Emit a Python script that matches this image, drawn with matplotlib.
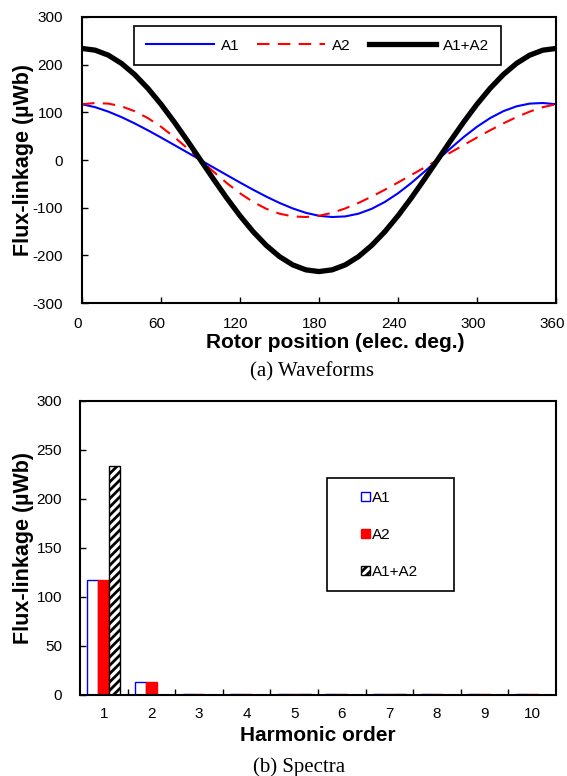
import numpy as np
import matplotlib.pyplot as plt
import matplotlib.transforms as mtransforms
from matplotlib.patches import Rectangle

plt.rcParams["font.family"] = ["Liberation Sans", "DejaVu Sans"]
plt.rcParams["hatch.linewidth"] = 2.0
plt.rcParams["axes.unicode_minus"] = False

# --- waveform data (every 10 deg) ---
theta = list(range(0, 361, 10))
a1 = [117, 110.8, 101.5, 90.0, 76.8, 62.4, 47.2, 31.6, 15.9, 0,
      -15.9, -31.6, -47.2, -62.4, -76.8, -90.0, -101.5, -110.8, -117,
      -119.6, -118.3, -112.6, -102.4, -88.0, -69.8, -48.4, -24.7, 0,
      24.7, 48.4, 69.8, 88.0, 102.4, 112.6, 118.3, 119.6, 117]
a2 = [117, 119.6, 118.3, 112.6, 102.4, 88.0, 69.8, 48.4, 24.7, 0,
      -24.7, -48.4, -69.8, -88.0, -102.4, -112.6, -118.3, -119.6, -117,
      -110.8, -101.5, -90.0, -76.8, -62.4, -47.2, -31.6, -15.9, 0,
      15.9, 31.6, 47.2, 62.4, 76.8, 90.0, 101.5, 110.8, 117]
a12 = [234, 230.4, 219.9, 202.6, 179.2, 150.4, 117.0, 80.0, 40.6, 0,
       -40.6, -80.0, -117.0, -150.4, -179.2, -202.6, -219.9, -230.4, -234,
       -230.4, -219.9, -202.6, -179.2, -150.4, -117.0, -80.0, -40.6, 0,
       40.6, 80.0, 117.0, 150.4, 179.2, 202.6, 219.9, 230.4, 234]

# --- spectra data ---
orders = list(range(1, 11))
spec_a1 = [117, 13, 0.5, 0.5, 0.5, 1.0, 1.0, 0.5, 0.5, 0.5]
spec_a2 = [117, 13, 0.5, 0.5, 0.5, 1.0, 1.0, 0.5, 0.5, 0.5]
spec_a12 = [234, 0.4, 0.3, 0.3, 0.8, 0.3, 1.5, 0.3, 0.3, 0.3]

serif = ["Liberation Serif", "DejaVu Serif"]
fig = plt.figure(figsize=(5.67, 7.76), dpi=100)

# ---- (a) Waveforms ----
ax1 = fig.add_axes([0.1446, 0.6095, 0.836, 0.3686])
ax1.plot(theta, a1, color="#0000ff", lw=1.5, label="A1")
ax1.plot(theta, a2, color="#ff0000", lw=1.5, ls=(0, (6, 4)), label="A2")
ax1.plot(theta, a12, color="black", lw=3.8, label="A1+A2")
ax1.set_xlim(0, 360)
ax1.set_ylim(-300, 300)
ax1.set_xticks(range(0, 361, 60))
ax1.set_yticks(range(-300, 301, 100))
ax1.tick_params(direction="in", length=4, width=1, labelsize=11)
ax1.tick_params(axis="x", pad=9.8)
ax1.tick_params(axis="y", pad=13.5)
# x tick labels sit a little left of their ticks in the reference
shift = mtransforms.ScaledTranslation(-3 / 72, 0, fig.dpi_scale_trans)
for lab in ax1.get_xticklabels():
    lab.set_transform(lab.get_transform() + shift)
ax1.set_xlabel("Rotor position (elec. deg.)", fontsize=15, fontweight="bold", labelpad=2)
ax1.xaxis.label.set_x(0.534)
ax1.set_ylabel("Flux-linkage (\u00b5Wb)", fontsize=15.5, fontweight="bold")
ax1.yaxis.set_label_coords(-0.101, 0.5)
for s in ax1.spines.values():
    s.set_linewidth(1.5)
ax1.add_patch(Rectangle((0.110, 0.832), 0.774, 0.137, transform=ax1.transAxes,
                        facecolor="white", edgecolor="black", lw=1.2, zorder=4))
leg1 = ax1.legend(loc="center", bbox_to_anchor=(0.497, 0.900), ncol=3,
                  frameon=False, fontsize=11, handlelength=4.4,
                  columnspacing=1.2, handletextpad=0.45, borderpad=0,
                  borderaxespad=0)
leg1.set_zorder(5)
fig.text(0.550, 0.521, "(a) Waveforms", ha="center", va="center",
         fontsize=15, family=serif)

# ---- (b) Spectra ----
ax2 = fig.add_axes([0.1411, 0.1044, 0.8395, 0.3789])
x = np.array(orders)
w = 0.23
ax2.bar(x - w, spec_a1, w, facecolor="white", edgecolor="#0000ff", lw=1.0, label="A1")
ax2.bar(x, spec_a2, w, facecolor="#ff0000", edgecolor="#ff0000", lw=1.0, label="A2")
ax2.bar(x + w, spec_a12, w, facecolor="white", edgecolor="black", lw=1.0,
        hatch="////", label="A1+A2")
ax2.set_xlim(0.5, 10.5)
ax2.set_ylim(0, 300)
ax2.set_yticks(range(0, 301, 50))
ax2.set_xticks(orders)
ax2.set_xticks(np.arange(1.5, 10.5, 1), minor=True)
ax2.tick_params(axis="x", which="major", length=0, labelsize=11, pad=8.5)
ax2.tick_params(axis="x", which="minor", direction="in", length=4, width=1)
ax2.tick_params(axis="y", direction="in", length=4, width=1, labelsize=11, pad=13)
ax2.set_xlabel("Harmonic order", fontsize=15, fontweight="bold", labelpad=4)
ax2.set_ylabel("Flux-linkage (\u00b5Wb)", fontsize=15.5, fontweight="bold")
ax2.yaxis.set_label_coords(-0.096, 0.5)
for s in ax2.spines.values():
    s.set_linewidth(1.5)
# legend box drawn separately so its padding can match the reference
ax2.add_patch(Rectangle((0.518, 0.354), 0.267, 0.384, transform=ax2.transAxes,
                        facecolor="white", edgecolor="black", lw=1.2, zorder=4))
leg2 = ax2.legend(loc="center", bbox_to_anchor=(0.651, 0.544), frameon=False,
                  fontsize=11, handlelength=0.53, handleheight=0.53,
                  handletextpad=0.17, labelspacing=1.5, borderpad=0,
                  borderaxespad=0)
leg2.set_zorder(5)
fig.text(0.527, 0.0116, "(b) Spectra", ha="center", va="center",
         fontsize=15, family=serif)

fig.savefig("out.png", dpi=100)
